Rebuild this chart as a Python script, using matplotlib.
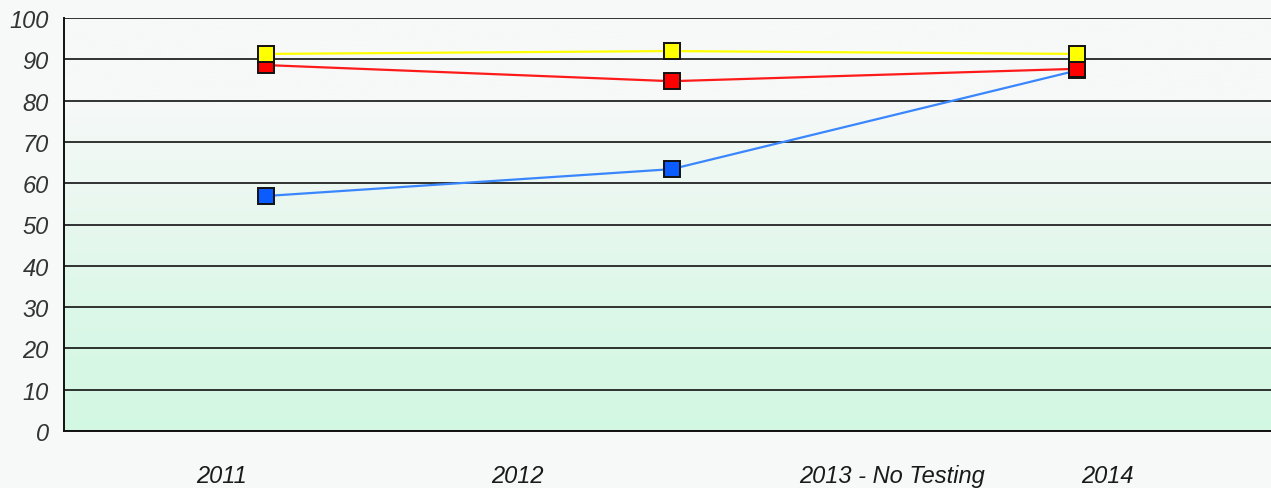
import matplotlib
matplotlib.use("Agg")
import matplotlib.pyplot as plt
from matplotlib.colors import LinearSegmentedColormap
import numpy as np

# data
years = ["2011", "2012", "2014"]
yellow_vals = [91.3, 92.0, 91.3]
red_vals = [88.6, 84.7, 87.7]
blue_vals = [56.9, 63.4, 87.3]

tick_labels = ["2011", "2012", "2013 - No Testing", "2014"]
tick_pos = [-0.109, 0.619, 1.544, 2.074]
y_ticks = list(range(0, 101, 10))


def plot():
    plt.rcParams["font.family"] = ["Liberation Sans", "DejaVu Sans"]
    bg = "#f7f9f9"

    fig = plt.figure(figsize=(12.71, 4.89), dpi=100, facecolor=bg)
    ax = fig.add_axes([64 / 1271, 57 / 489, 1 - 64 / 1271, (432 - 19) / 489])

    x = np.arange(len(years))

    # vertical gradient background
    cmap = LinearSegmentedColormap.from_list(
        "bg", [(0.0, "#d2f8e2"), (0.3, "#dcf7e8"), (0.6, "#ecf8f1"),
               (0.8, "#f6f9f8"), (1.0, "#f7f9f9")]
    )
    grad = np.linspace(0, 1, 256).reshape(-1, 1)
    ax.imshow(grad, aspect="auto", cmap=cmap, origin="lower",
              extent=(0, 1, 0, 1), transform=ax.transAxes, zorder=0)

    for y in y_ticks:
        ax.axhline(y, color="#111111", lw=1.2, zorder=1)

    series = [
        (blue_vals, "#3a86ff", "#0a5cff"),
        (red_vals, "#ff1a1a", "#ff0000"),
        (yellow_vals, "#ffff00", "#ffff00"),
    ]
    for i, (vals, lc, mc) in enumerate(series):
        ax.plot(x, vals, color=lc, lw=1.6, marker="s", markersize=12,
                markerfacecolor=mc, markeredgecolor="#111111",
                markeredgewidth=1.4, zorder=3 + i, clip_on=False)

    ax.set_xlim(-0.498, 2.478)
    ax.set_ylim(0, 100)
    ax.set_yticks(y_ticks)
    ax.set_yticklabels([str(v) for v in y_ticks], fontsize=17,
                       style="italic", color="#333333")
    ax.set_xticks(tick_pos)
    ax.set_xticklabels(tick_labels, fontsize=17, style="italic", color="#1a1a1a")
    ax.tick_params(axis="y", length=0, pad=11)
    ax.tick_params(axis="x", length=0, pad=24)

    ax.set_facecolor("none")
    for side in ["top", "right"]:
        ax.spines[side].set_visible(False)
    for side in ["left", "bottom"]:
        ax.spines[side].set_color("#111111")
        ax.spines[side].set_linewidth(1.4)
        ax.spines[side].set_zorder(2)

    fig.savefig("out.png", dpi=100, facecolor=bg)


if __name__ == "__main__":
    plot()
